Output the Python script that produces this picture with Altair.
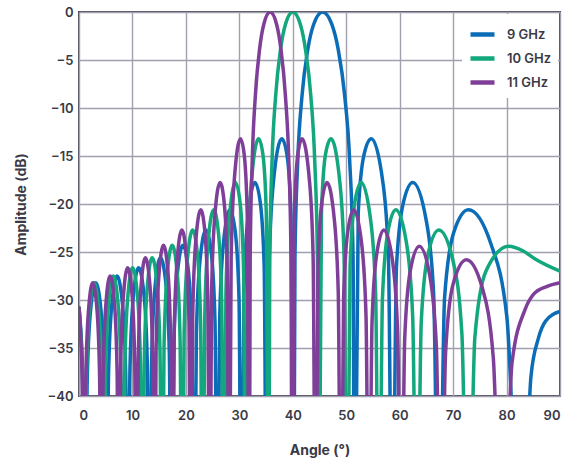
import altair as alt
import pandas as pd

SERIES = ["9 GHz", "10 GHz", "11 GHz"]
COLORS = ["#0b6cb7", "#12a77c", "#7f3f98"]

X_TICKS = [0, 10, 20, 30, 40, 50, 60, 70, 80, 90]
Y_TICKS = [0, -5, -10, -15, -20, -25, -30, -35, -40]

# 9 GHz trace: angle (deg) / amplitude (dB) vertices (nulls sit below the -40 floor)
ANG_9 = [0, 0.34, 0.74, 1.13,
         1.53, 2.13, 3.12, 4.12, 4.72, 5.12,
         5.52, 6.12, 7.12, 8.13, 8.73, 9.13,
         9.54, 10.15, 11.15, 12.18, 12.78, 13.19,
         13.60, 14.22, 15.24, 16.28, 16.90, 17.31,
         17.73, 18.37, 19.45, 20.47, 21.11, 21.53,
         21.97, 22.62, 23.77, 24.79, 25.45, 25.88,
         26.33, 27.01, 28.24, 29.26, 29.94, 30.39,
         30.86, 31.57, 32.92, 33.94, 34.65, 35.12,
         35.62, 36.38, 37.94, 38.89, 39.65, 40.15,
         40.41, 40.94, 41.73, 42.81, 43.90, 45.58, 47.31, 48.50, 49.71, 50.64, 51.28, 51.59,
         52.25, 53.35, 54.70, 56.85, 57.90, 58.62,
         59.40, 60.65, 62.45, 64.95, 66.35, 67.35,
         68.40, 70.10, 72.85, 77.10, 80.06, 82.74,
         84.56, 85.95, 87.31, 90]
DB_9 = [-30.8, -33.2, -38.8, -60,
        -38.6, -31.3, -28.2, -31.1, -38.2, -60,
        -37.9, -30.6, -27.5, -30.4, -37.5, -60,
        -37.05, -29.75, -26.65, -29.55, -36.65, -60,
        -36.1, -28.7, -25.6, -28.4, -35.5, -60,
        -34.9, -27.5, -24.3, -27.0, -34.1, -60,
        -33.5, -26.0, -22.7, -25.3, -32.3, -60,
        -31.8, -24.2, -20.6, -23.0, -29.8, -60,
        -29.25, -21.65, -17.75, -19.95, -26.55, -60,
        -25.6, -17.7, -13.2, -14.8, -20.9, -60,
        -25.6, -15.4, -8.7, -3.9, -1.3, 0, -1.3, -3.9, -8.7, -15.4, -25.6, -60,
        -20.9, -14.8, -13.2, -17.7, -25.6, -60,
        -26.55, -19.95, -17.75, -21.65, -29.25, -60,
        -29.8, -23.0, -20.6, -24.2, -31.8, -60,
        -38.0, -34.0, -32.2, -31.2]

# 10 GHz trace
ANG_10 = [0, 0.30, 0.67, 1.02,
          1.38, 1.92, 2.81, 3.71, 4.25, 4.61,
          4.97, 5.51, 6.40, 7.31, 7.85, 8.21,
          8.57, 9.12, 10.02, 10.94, 11.49, 11.85,
          12.22, 12.77, 13.68, 14.61, 15.16, 15.53,
          15.91, 16.47, 17.44, 18.35, 18.91, 19.29,
          19.67, 20.25, 21.27, 22.17, 22.75, 23.13,
          23.53, 24.12, 25.21, 26.09, 26.69, 27.08,
          27.49, 28.11, 29.27, 30.16, 30.78, 31.19,
          31.62, 32.26, 33.60, 34.40, 35.04, 35.47,
          35.69, 36.13, 36.80, 37.71, 38.62, 40.0, 41.42, 42.38, 43.37, 44.10, 44.61, 44.85,
          45.37, 46.13, 47.15, 48.80, 49.60, 50.16,
          50.72, 51.57, 52.81, 54.56, 55.50, 56.13,
          56.78, 57.77, 59.28, 61.31, 62.44, 63.22,
          64.04, 65.28, 67.33, 70.02, 71.64, 72.80,
          74.07, 76.14, 80.37, 83.12, 85.27, 90]
DB_10 = [-30.8, -33.2, -38.8, -60,
         -38.6, -31.3, -28.2, -31.1, -38.2, -60,
         -37.9, -30.6, -27.5, -30.4, -37.5, -60,
         -37.05, -29.75, -26.65, -29.55, -36.65, -60,
         -36.1, -28.7, -25.6, -28.4, -35.5, -60,
         -34.9, -27.5, -24.3, -27.0, -34.1, -60,
         -33.5, -26.0, -22.7, -25.3, -32.3, -60,
         -31.8, -24.2, -20.6, -23.0, -29.8, -60,
         -29.25, -21.65, -17.75, -19.95, -26.55, -60,
         -25.6, -17.7, -13.2, -14.8, -20.9, -60,
         -25.6, -15.4, -8.7, -3.9, -1.3, 0, -1.3, -3.9, -8.7, -15.4, -25.6, -60,
         -20.9, -14.8, -13.2, -17.7, -25.6, -60,
         -26.55, -19.95, -17.75, -21.65, -29.25, -60,
         -29.8, -23.0, -20.6, -24.2, -31.8, -60,
         -32.3, -25.3, -22.7, -26.0, -33.5, -60,
         -33.9, -27.0, -24.4, -24.9, -25.7, -27.0]

# 11 GHz trace
ANG_11 = [0, 0.28, 0.60, 0.93,
          1.26, 1.75, 2.56, 3.38, 3.86, 4.19,
          4.52, 5.01, 5.82, 6.64, 7.13, 7.46,
          7.79, 8.29, 9.10, 9.94, 10.43, 10.76,
          11.09, 11.59, 12.42, 13.26, 13.76, 14.09,
          14.43, 14.94, 15.81, 16.63, 17.14, 17.48,
          17.82, 18.34, 19.26, 20.06, 20.58, 20.92,
          21.27, 21.80, 22.78, 23.57, 24.10, 24.45,
          24.81, 25.36, 26.40, 27.18, 27.73, 28.09,
          28.47, 29.03, 30.21, 30.90, 31.47, 31.84,
          32.03, 32.42, 33.00, 33.78, 34.57, 35.76, 36.98, 37.79, 38.62, 39.25, 39.67, 39.88,
          40.31, 40.95, 41.74, 43.14, 43.81, 44.27,
          44.73, 45.41, 46.41, 47.78, 48.51, 49.01,
          49.51, 50.26, 51.41, 52.90, 53.71, 54.26,
          54.83, 55.68, 57.03, 58.68, 59.63, 60.29,
          60.94, 61.97, 63.68, 65.65, 66.87, 67.71,
          68.59, 69.97, 72.48, 75.44, 77.53, 79.15,
          81.03, 83.46, 85.07, 87.5, 90]
DB_11 = [-30.8, -33.2, -38.8, -60,
         -38.6, -31.3, -28.2, -31.1, -38.2, -60,
         -37.9, -30.6, -27.5, -30.4, -37.5, -60,
         -37.05, -29.75, -26.65, -29.55, -36.65, -60,
         -36.1, -28.7, -25.6, -28.4, -35.5, -60,
         -34.9, -27.5, -24.3, -27.0, -34.1, -60,
         -33.5, -26.0, -22.7, -25.3, -32.3, -60,
         -31.8, -24.2, -20.6, -23.0, -29.8, -60,
         -29.25, -21.65, -17.75, -19.95, -26.55, -60,
         -25.6, -17.7, -13.2, -14.8, -20.9, -60,
         -25.6, -15.4, -8.7, -3.9, -1.3, 0, -1.3, -3.9, -8.7, -15.4, -25.6, -60,
         -20.9, -14.8, -13.2, -17.7, -25.6, -60,
         -26.55, -19.95, -17.75, -21.65, -29.25, -60,
         -29.8, -23.0, -20.6, -24.2, -31.8, -60,
         -32.3, -25.3, -22.7, -26.0, -33.5, -60,
         -34.1, -27.0, -24.4, -27.5, -34.9, -60,
         -35.5, -28.4, -25.8, -28.7, -36.1, -60,
         -36.5, -31.0, -29.4, -28.6, -28.2]

rows = []
for name, angs, dbs in zip(SERIES, [ANG_9, ANG_10, ANG_11], [DB_9, DB_10, DB_11]):
    for i, (a, d) in enumerate(zip(angs, dbs)):
        rows.append({"series": name, "angle": a, "db": d, "idx": i})
df = pd.DataFrame(rows)

FONT = "Inter"
TEXT = "#3a3a46"

chart = alt.Chart(df).mark_line(
    clip=True, interpolate="monotone", strokeWidth=3.5, strokeJoin="round", strokeCap="round"
).encode(
    x=alt.X("angle:Q",
            scale=alt.Scale(domain=[0, 90], nice=False, zero=False),
            axis=alt.Axis(values=X_TICKS, title="Angle (°)", labelPadding=13,
                          titleY=54, titleBaseline="middle")),
    y=alt.Y("db:Q",
            scale=alt.Scale(domain=[-40, 0], nice=False, zero=False),
            axis=alt.Axis(values=Y_TICKS, title="Amplitude (dB)", labelPadding=6,
                          titleAngle=-90, titleX=-58, titleY=192, titleAlign="center",
                          titleBaseline="middle")),
    color=alt.Color("series:N",
                    scale=alt.Scale(domain=SERIES, range=COLORS),
                    legend=alt.Legend(title=None, orient="none", legendX=383, legendY=2,
                                      fillColor="white", padding=6,
                                      symbolType="stroke", symbolStrokeWidth=4.5, symbolSize=576,
                                      labelFont=FONT, labelFontSize=13, labelFontWeight=600,
                                      labelColor=TEXT, labelOffset=10, rowPadding=-4.5)),
    order=alt.Order("idx:Q"),
).properties(
    width=481, height=384,
    autosize=alt.AutoSizeParams(type="none"),
    padding={"left": 79, "top": 12, "right": 25, "bottom": 64},
).configure_view(
    stroke="#4b4b58", strokeWidth=2
).configure_axis(
    domain=False, ticks=False,
    grid=True, gridColor="#a0a0ae", gridWidth=1.4, gridOpacity=1,
    labelFont=FONT, labelFontSize=13, labelFontWeight=600, labelColor=TEXT,
    titleFont=FONT, titleFontSize=14, titleFontWeight=700, titleColor=TEXT,
)

chart.save("out.html", embed_options={"renderer": "svg", "actions": False})
